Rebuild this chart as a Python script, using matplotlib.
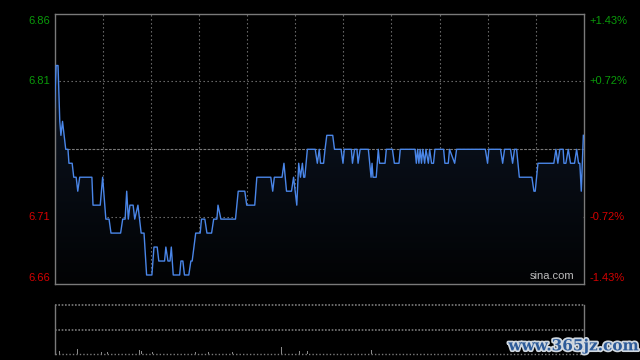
import numpy as np
import matplotlib
matplotlib.use('Agg')
import matplotlib.pyplot as plt
import matplotlib.patheffects as pe
from matplotlib.colors import LinearSegmentedColormap

# intraday price, minutes since open (0..330) and price at each turning point
price_min = [0, 1, 2.2, 3.3, 4, 5, 6, 7, 8.4, 9, 11, 12, 13.5, 14.5, 15.7, 23.3, 24, 28.5, 30, 32,
             34, 35.2, 41.2, 42.5, 44, 45, 46, 47, 49, 50, 52, 54, 55.8, 57.4, 60.7, 62, 64, 65, 68.6,
             69.4, 70.7, 72, 72.8, 74, 78, 78.8, 80, 81, 83.7, 85, 85.8, 88, 90.8, 91.6, 93.7, 95,
             97.9, 99.2, 101.2, 101.9, 103.7, 112.8, 114.5, 118.6, 119.8, 124.8, 126.1, 134.8, 136,
             137, 141.8, 143, 144.6, 147.7, 149, 151, 152.2, 153.3, 154.5, 155.3, 156, 157.6, 162.5,
             163.8, 165, 165.8, 167.7, 168.6, 169.7, 173.4, 174.5, 178.6, 179.8, 180.6, 185, 185.7,
             187, 188.5, 189.2, 190.5, 195.6, 197.3, 197.9, 198.5, 200.5, 201.8, 202.6, 206, 206.8,
             210.6, 211.8, 214.7, 215.5, 224.7, 225.5, 226.3, 227.1, 227.9, 228.7, 229.5, 230.7,
             231.5, 233, 233.8, 235, 236.2, 237.1, 242.5, 243.3, 245.4, 246.2, 249.4, 250.6, 268.5,
             269.9, 270.7, 278, 279.3, 280.5, 284.2, 285.5, 286.7, 288, 289.7, 297.5, 298.8, 299.6,
             301.3, 311.2, 312.5, 313.7, 314.9, 317, 317.5, 318.7, 320.2, 321.6, 324.1, 325.4, 326.6,
             327.4, 328.3, 329.6]
price_val = [6.79, 6.82, 6.82, 6.78, 6.77, 6.78, 6.77, 6.76, 6.76, 6.75, 6.75, 6.74, 6.74, 6.73, 6.74,
             6.74, 6.72, 6.72, 6.74, 6.71, 6.71, 6.70, 6.70, 6.71, 6.71, 6.73, 6.71, 6.72, 6.72, 6.71,
             6.72, 6.70, 6.70, 6.67, 6.67, 6.69, 6.69, 6.68, 6.68, 6.69, 6.68, 6.68, 6.69, 6.67, 6.67,
             6.68, 6.68, 6.67, 6.67, 6.68, 6.68, 6.70, 6.70, 6.71, 6.71, 6.70, 6.70, 6.71, 6.71, 6.72,
             6.71, 6.71, 6.73, 6.73, 6.72, 6.72, 6.74, 6.74, 6.73, 6.74, 6.74, 6.75, 6.73, 6.73, 6.74,
             6.72, 6.75, 6.74, 6.75, 6.74, 6.74, 6.76, 6.76, 6.75, 6.76, 6.75, 6.75, 6.76, 6.77, 6.77,
             6.76, 6.76, 6.75, 6.76, 6.76, 6.75, 6.76, 6.76, 6.75, 6.76, 6.76, 6.74, 6.75, 6.74, 6.74,
             6.76, 6.75, 6.75, 6.76, 6.76, 6.75, 6.75, 6.76, 6.76, 6.75, 6.76, 6.75, 6.76, 6.75, 6.76,
             6.75, 6.76, 6.75, 6.76, 6.75, 6.75, 6.76, 6.76, 6.75, 6.75, 6.76, 6.75, 6.76, 6.76, 6.75,
             6.76, 6.76, 6.75, 6.76, 6.76, 6.75, 6.76, 6.76, 6.74, 6.74, 6.73, 6.73, 6.75, 6.75, 6.76,
             6.75, 6.76, 6.76, 6.75, 6.75, 6.76, 6.75, 6.75, 6.76, 6.75, 6.75, 6.73, 6.77]

# visible volume spikes (minute, height in panel units)
vol_min = [0, 3.4, 14.6, 29, 33, 42.7, 53.2, 54.5, 61.3, 88, 96, 111, 141.5, 152.4, 157.8, 197.5]
vol_val = [4, 3, 5, 2, 2, 3.5, 4, 3.5, 2.5, 2, 2, 2, 7, 3, 3.5, 4]

prev_close = 6.76
left_labels = ['6.86', '6.81', '6.71', '6.66']
right_labels = ['+1.43%', '+0.72%', '-0.72%', '-1.43%']
pct_levels = [0.0143, 0.0072, -0.0072, -0.0143]

ymax = prev_close * (1 + 0.0143)
ymin = prev_close * (1 - 0.0143)
GRID = '#7a7a7a'
GREEN = '#0a9a0a'
RED = '#d40000'

fig = plt.figure(figsize=(6.4, 3.6), dpi=100, facecolor='black')
ax = fig.add_axes([54.5 / 640, 1 - 284.3 / 360, (584 - 54.5) / 640, (284.3 - 14.3) / 360])
vax = fig.add_axes([54.5 / 640, 1 - 354 / 360, (584 - 54.5) / 640, (354 - 304.5) / 360])

# ---- price panel ----
ax.set_facecolor('black')
ax.set_xlim(0, 330)
ax.set_ylim(ymin, ymax)
ax.set_xticks([])
ax.set_yticks([])
for s in ax.spines.values():
    s.set_color(GRID)
    s.set_linewidth(1)

for m in range(30, 330, 30):
    ax.axvline(m, color=GRID, lw=0.8, ls=(0, (1.2, 2.4)), zorder=1)
for p in [0.0072, -0.0072]:
    ax.axhline(prev_close * (1 + p), color=GRID, lw=0.8, ls=(0, (1.2, 2.4)), zorder=1)
ax.axhline(prev_close, color=GRID, lw=0.8, ls=(0, (2.5, 1.2)), zorder=1)

# gradient fill under the line
poly = ax.fill_between(price_min, price_val, ymin, color='none', lw=0)
cmap = LinearSegmentedColormap.from_list('fill', ['#020304', '#0f1a2c'])
grad = np.linspace(1, 0, 256).reshape(-1, 1)
img = ax.imshow(grad, extent=[0, 330, ymin, ymax], aspect='auto', cmap=cmap, origin='upper', zorder=2)
img.set_clip_path(poly.get_paths()[0], transform=ax.transData)
ax.set_xlim(0, 330)
ax.set_ylim(ymin, ymax)

ax.plot(price_min, price_val, color='#4a86e8', lw=1.0, zorder=3)

# axis labels
for lab, rlab, p in zip(left_labels, right_labels, pct_levels):
    y = prev_close * (1 + p)
    col = GREEN if p > 0 else RED
    va = 'center'
    dy = 0
    if p == 0.0143:
        va, dy = 'top', -1
    if p == -0.0143:
        va, dy = 'bottom', 1
    ax.annotate(lab, xy=(0, y), xycoords=('axes fraction', 'data'), xytext=(-3, dy),
                textcoords='offset points', ha='right', va=va, color=col, fontsize=8,
                family='Liberation Sans')
    ax.annotate(rlab, xy=(1, y), xycoords=('axes fraction', 'data'), xytext=(4, dy),
                textcoords='offset points', ha='left', va=va, color=col, fontsize=8,
                family='Liberation Sans')

ax.text(0.982, 0.012, 'sina.com', transform=ax.transAxes, ha='right', va='bottom',
        color='#bdbdbd', fontsize=8, family='Liberation Sans', zorder=4)

# ---- volume panel ----
vax.set_facecolor('black')
vax.set_xlim(0, 330)
vax.set_ylim(0, 50)
vax.set_xticks([])
vax.set_yticks([])
for k in ['top', 'bottom']:
    vax.spines[k].set_visible(False)
for k in ['left', 'right']:
    vax.spines[k].set_color(GRID)
    vax.spines[k].set_linewidth(1)
vax.axhline(50, color=GRID, lw=1.2, ls=(0, (1, 1)), clip_on=False)
vax.axhline(24.5, color=GRID, lw=1.2, ls=(0, (1, 1)))
vax.axhline(0.3, color=GRID, lw=1.0, ls=(0, (1, 1.5)), clip_on=False)
vax.bar(vol_min, vol_val, width=0.6, color='#8a8a8a')

# watermark
fig.text(0.896, 0.038, 'www.365jz.com', ha='center', va='center', fontsize=11,
         fontweight='bold', family='DejaVu Serif', color='#2d5b99',
         path_effects=[pe.withStroke(linewidth=2.5, foreground='#d0d8e0')])

fig.savefig('out.png', dpi=100, facecolor='black')
